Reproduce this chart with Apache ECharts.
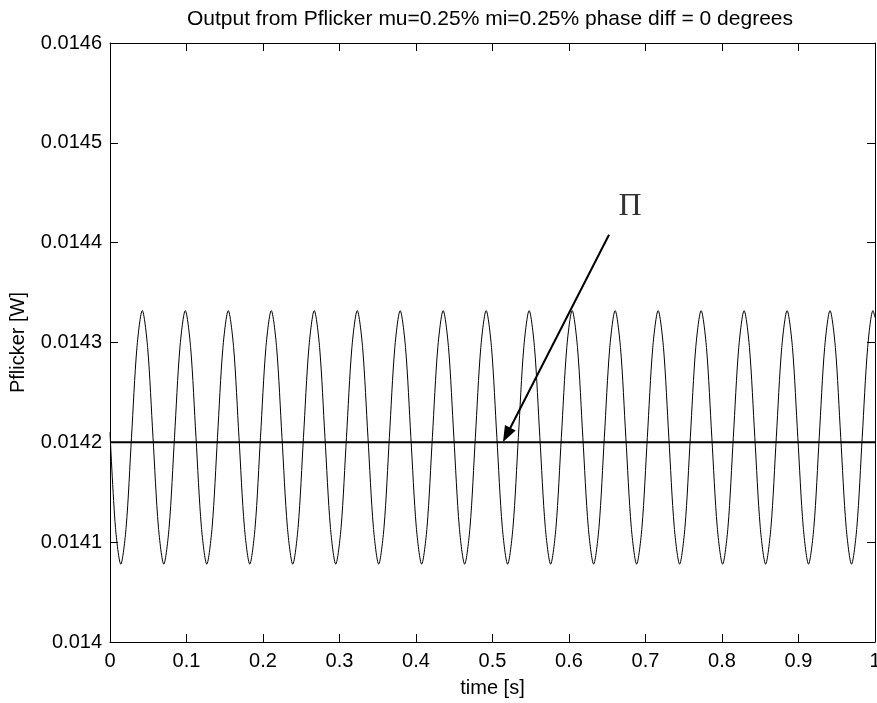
<!DOCTYPE html>
<html>
<head>
<meta charset="utf-8">
<script src="https://cdn.jsdelivr.net/npm/echarts@6/dist/echarts.min.js"></script>
<style>
  html, body { margin: 0; padding: 0; background: #fff; overflow: hidden; }
  #main { width: 877px; height: 703px; }
</style>
</head>
<body>
<div id="main"></div>
<script>
// time samples [s] (8 per cycle, ~17.8 Hz)
const time = [
  0.0000, 0.0071,
  0.0141, 0.0211, 0.0281, 0.0352, 0.0422, 0.0492, 0.0562, 0.0633,
  0.0703, 0.0773, 0.0843, 0.0914, 0.0984, 0.1054, 0.1124, 0.1195,
  0.1265, 0.1335, 0.1405, 0.1476, 0.1546, 0.1616, 0.1686, 0.1757,
  0.1827, 0.1897, 0.1967, 0.2038, 0.2108, 0.2178, 0.2248, 0.2319,
  0.2389, 0.2459, 0.2529, 0.2600, 0.2670, 0.2740, 0.2810, 0.2881,
  0.2951, 0.3021, 0.3091, 0.3162, 0.3232, 0.3302, 0.3372, 0.3443,
  0.3512, 0.3582, 0.3652, 0.3723, 0.3793, 0.3863, 0.3933, 0.4004,
  0.4074, 0.4144, 0.4214, 0.4285, 0.4355, 0.4425, 0.4495, 0.4566,
  0.4636, 0.4706, 0.4776, 0.4847, 0.4917, 0.4987, 0.5057, 0.5128,
  0.5198, 0.5268, 0.5338, 0.5409, 0.5479, 0.5549, 0.5619, 0.5690,
  0.5760, 0.5830, 0.5900, 0.5971, 0.6041, 0.6111, 0.6181, 0.6252,
  0.6322, 0.6392, 0.6462, 0.6533, 0.6603, 0.6673, 0.6743, 0.6814,
  0.6884, 0.6954, 0.7024, 0.7095, 0.7165, 0.7235, 0.7305, 0.7376,
  0.7446, 0.7516, 0.7586, 0.7657, 0.7727, 0.7797, 0.7867, 0.7938,
  0.8008, 0.8078, 0.8148, 0.8219, 0.8289, 0.8359, 0.8429, 0.8500,
  0.8570, 0.8640, 0.8710, 0.8781, 0.8851, 0.8921, 0.8991, 0.9062,
  0.9131, 0.9201, 0.9271, 0.9342, 0.9412, 0.9482, 0.9552, 0.9623,
  0.9693, 0.9763, 0.9833, 0.9904, 0.9974, 1.0000
];
// Pflicker [W] at those times
const pflicker = [
  0.014210, 0.014115,
  0.014078, 0.014115, 0.014205, 0.014295, 0.014332, 0.014295, 0.014205, 0.014115,
  0.014078, 0.014115, 0.014205, 0.014295, 0.014332, 0.014295, 0.014205, 0.014115,
  0.014078, 0.014115, 0.014205, 0.014295, 0.014332, 0.014295, 0.014205, 0.014115,
  0.014078, 0.014115, 0.014205, 0.014295, 0.014332, 0.014295, 0.014205, 0.014115,
  0.014078, 0.014115, 0.014205, 0.014295, 0.014332, 0.014295, 0.014205, 0.014115,
  0.014078, 0.014115, 0.014205, 0.014295, 0.014332, 0.014295, 0.014205, 0.014115,
  0.014078, 0.014115, 0.014205, 0.014295, 0.014332, 0.014295, 0.014205, 0.014115,
  0.014078, 0.014115, 0.014205, 0.014295, 0.014332, 0.014295, 0.014205, 0.014115,
  0.014078, 0.014115, 0.014205, 0.014295, 0.014332, 0.014295, 0.014205, 0.014115,
  0.014078, 0.014115, 0.014205, 0.014295, 0.014332, 0.014295, 0.014205, 0.014115,
  0.014078, 0.014115, 0.014205, 0.014295, 0.014332, 0.014295, 0.014205, 0.014115,
  0.014078, 0.014115, 0.014205, 0.014295, 0.014332, 0.014295, 0.014205, 0.014115,
  0.014078, 0.014115, 0.014205, 0.014295, 0.014332, 0.014295, 0.014205, 0.014115,
  0.014078, 0.014115, 0.014205, 0.014295, 0.014332, 0.014295, 0.014205, 0.014115,
  0.014078, 0.014115, 0.014205, 0.014295, 0.014332, 0.014295, 0.014205, 0.014115,
  0.014078, 0.014115, 0.014205, 0.014295, 0.014332, 0.014295, 0.014205, 0.014115,
  0.014078, 0.014115, 0.014205, 0.014295, 0.014332, 0.014295, 0.014205, 0.014115,
  0.014078, 0.014115, 0.014205, 0.014295, 0.014332, 0.014325
];
// the flat line (mean value)
const meanT = [0, 1];
const meanV = [0.0142, 0.0142];

const font = 'Arial, "Liberation Sans", Helvetica, sans-serif';
const tickFmt = v => String(parseFloat(v.toFixed(5)));

var myChart = echarts.init(document.getElementById('main'));

function xAx(pos, showLabel) {
  return {
    type: 'value', position: pos, min: 0, max: 1, interval: 0.1,
    axisLine: { show: true, onZero: false, lineStyle: { color: '#000', width: 1 } },
    axisTick: { show: true, inside: true, length: 8, lineStyle: { color: '#000' } },
    splitLine: { show: false },
    axisLabel: { show: showLabel, color: '#000', fontSize: 20, fontFamily: font, margin: 9, formatter: tickFmt },
    name: showLabel ? 'time [s]' : '', nameLocation: 'middle', nameGap: 36,
    nameTextStyle: { color: '#000', fontSize: 20, fontFamily: font }
  };
}
function yAx(pos, showLabel) {
  return {
    type: 'value', position: pos, min: 0.014, max: 0.0146, interval: 0.0001,
    axisLine: { show: true, onZero: false, lineStyle: { color: '#000', width: 1 } },
    axisTick: { show: true, inside: true, length: 8, lineStyle: { color: '#000' } },
    splitLine: { show: false },
    axisLabel: { show: showLabel, color: '#000', fontSize: 20, fontFamily: font, margin: 8, formatter: tickFmt },
    name: showLabel ? 'Pflicker [W]' : '', nameLocation: 'middle', nameGap: 82,
    nameTextStyle: { color: '#000', fontSize: 20, fontFamily: font }
  };
}

var option = {
  animation: false,
  backgroundColor: '#fff',
  // v6 would shrink the grid to keep the "1" label inside; the reference lets it clip
  grid: { left: 110, right: 2, top: 43, bottom: 61, containLabel: false, outerBoundsMode: 'none' },
  graphic: [{
    type: 'text', x: 490, y: 19,
    style: {
      text: 'Output from Pflicker mu=0.25% mi=0.25% phase diff = 0 degrees',
      align: 'center', verticalAlign: 'middle', fill: '#000', font: '21px ' + font
    }
  }],
  xAxis: [xAx('bottom', true), xAx('top', false)],
  yAxis: [yAx('left', true), yAx('right', false)],
  series: [
    {
      name: 'Pflicker', type: 'line',
      data: time.map((t, i) => [t, pflicker[i]]),
      showSymbol: false, smooth: 0.3,
      lineStyle: { color: '#000', width: 1 }
    },
    {
      name: 'mean', type: 'line',
      data: meanT.map((t, i) => [t, meanV[i]]),
      showSymbol: false,
      lineStyle: { color: '#000', width: 2 },
      markLine: {
        silent: true, symbol: ['none', 'triangle'], symbolSize: [12, 16],
        lineStyle: { color: '#000', width: 2, type: 'solid' },
        label: { show: false },
        data: [[{ coord: [0.6523, 0.014408] }, { coord: [0.5185, 0.0142074] }]]
      }
    },
    {
      name: 'label', type: 'scatter', symbolSize: 0,
      data: [[0.6797, 0.014436]],
      label: {
        show: true, position: 'inside', formatter: '\u03A0', color: '#000',
        fontSize: 32, fontFamily: '"Liberation Serif", "Times New Roman", serif'
      }
    }
  ]
};
myChart.setOption(option);
</script>
</body>
</html>
